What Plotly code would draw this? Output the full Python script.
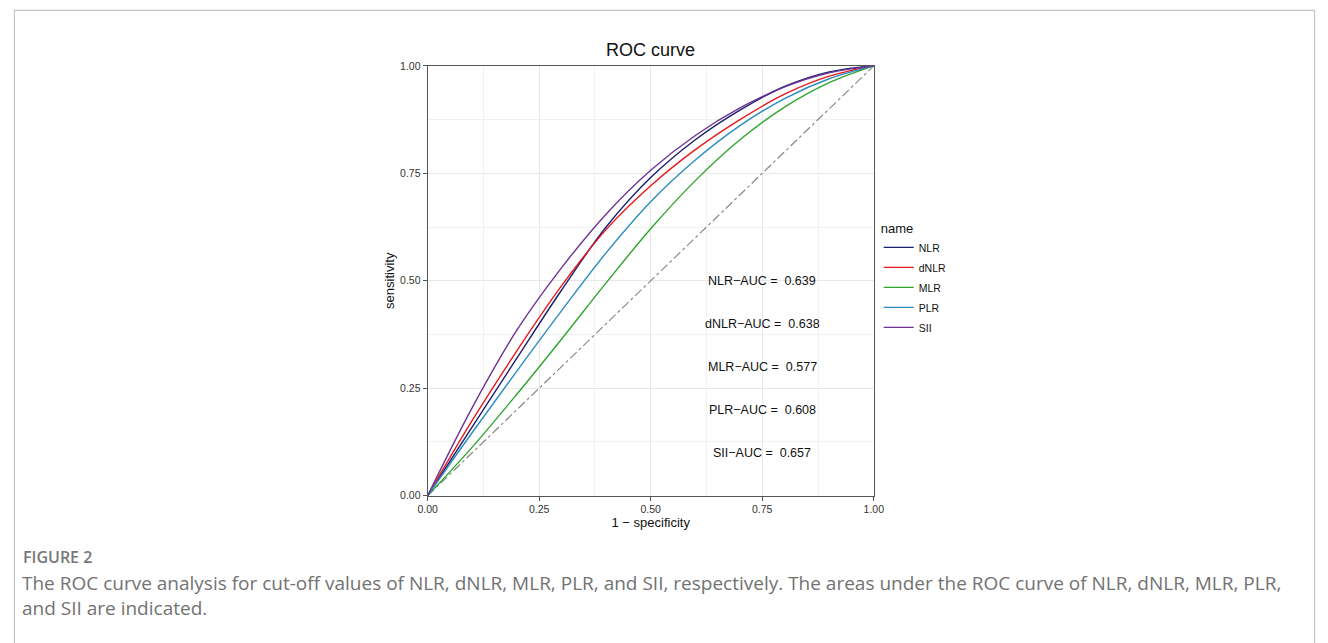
import plotly.graph_objects as go

# ---- data ----
names = ["NLR", "dNLR", "MLR", "PLR", "SII"]
colors = ["#1a1f6e", "#e8191c", "#2fa52f", "#2a8cc0", "#6e3495"]
auc_values = ["0.639", "0.638", "0.577", "0.608", "0.657"]

fpr_grid = [0, 0.1, 0.2, 0.3, 0.4, 0.5, 0.6, 0.7, 0.8, 0.9, 1.0]
nlr_tpr = [0, 0.160, 0.320, 0.478, 0.625, 0.740, 0.828, 0.897, 0.952, 0.986, 1]
dnlr_tpr = [0, 0.175, 0.337, 0.488, 0.619, 0.721, 0.805, 0.875, 0.934, 0.976, 1]
mlr_tpr = [0, 0.113, 0.236, 0.364, 0.495, 0.621, 0.733, 0.828, 0.904, 0.961, 1]
plr_tpr = [0, 0.147, 0.290, 0.430, 0.565, 0.684, 0.781, 0.861, 0.924, 0.970, 1]
sii_tpr = [0, 0.205, 0.385, 0.530, 0.655, 0.757, 0.838, 0.902, 0.951, 0.984, 1]

diag = [0, 1]
tick_vals = [0, 0.25, 0.5, 0.75, 1.0]
tick_text = ["0.00", "0.25", "0.50", "0.75", "1.00"]
label_x = [0.75, 0.75, 0.75, 0.75, 0.75]
label_y = [0.5, 0.4, 0.3, 0.2, 0.1]

caption_head = "FIGURE 2"
caption_line1 = ("The ROC curve analysis for cut-off values of NLR, dNLR, MLR, PLR, and SII, "
                 "respectively. The areas under the ROC curve of NLR, dNLR, MLR, PLR,")
caption_line2 = "and SII are indicated."

curves = [nlr_tpr, dnlr_tpr, mlr_tpr, plr_tpr, sii_tpr]

W, H = 1328, 643
PL, PR, PT, PB = 424, 877, 61, 499
FONT = "Liberation Sans, Arial, sans-serif"

fig = go.Figure()

fig.add_trace(go.Scatter(x=diag, y=diag, mode="lines", showlegend=False,
                         line=dict(color="#8a8a8a", width=1.2, dash="dashdot"),
                         hoverinfo="skip"))

for nm, col, ty in zip(names, colors, curves):
    fig.add_trace(go.Scatter(x=fpr_grid, y=ty, mode="lines", name=nm, legendgroup=nm,
                             line=dict(color=col, width=1.4, shape="spline", smoothing=1.0)))

for nm, val, lx, ly in zip(names, auc_values, label_x, label_y):
    fig.add_annotation(x=lx, y=ly, xref="x", yref="y",
                       text=f"{nm}\u2212AUC =\u00a0 {val}", showarrow=False,
                       font=dict(family=FONT, size=12.5, color="#111111"))

# title
fig.add_annotation(x=(PL + PR) / 2 / W, y=1 - 45 / H, xref="paper", yref="paper",
                   text="ROC curve", showarrow=False, xanchor="center", yanchor="middle",
                   font=dict(family=FONT, size=18, color="#111111"))

# caption
cap_font = "Open Sans, Noto Sans, sans-serif"
fig.add_annotation(x=11 / W, y=1 - 561 / H, xref="paper", yref="paper",
                   text=caption_head, showarrow=False, xanchor="left", yanchor="middle",
                   font=dict(family=cap_font, size=16, color="#767676", weight=600))
fig.add_annotation(x=10 / W, y=1 - 601 / H, xref="paper", yref="paper",
                   text=caption_line1 + "<br>" + caption_line2, showarrow=False,
                   xanchor="left", yanchor="middle", align="left",
                   font=dict(family=cap_font, size=19, color="#727272"))

# outer frame
fig.add_shape(type="rect", xref="paper", yref="paper",
              x0=4.5 / W, x1=1324.5 / W, y0=-0.2, y1=1 - 4.5 / H,
              line=dict(color="#c4c4c4", width=1.2), layer="below")

axis_common = dict(
    range=[0, 1], tickvals=tick_vals, ticktext=tick_text,
    showgrid=True, gridcolor="#e8e8e8", gridwidth=1,
    minor=dict(showgrid=True, gridcolor="#f1f1f1", gridwidth=0.8, dtick=0.125, tick0=0),
    zeroline=False, showline=True, linecolor="#555555", linewidth=1, mirror=True,
    ticks="outside", ticklen=4, tickcolor="#555555", tickwidth=1,
    tickfont=dict(family=FONT, size=10.5, color="#333333"),
    fixedrange=True,
)

fig.update_layout(
    width=W, height=H,
    margin=dict(l=0, r=0, t=0, b=0),
    paper_bgcolor="white", plot_bgcolor="white",
    xaxis=dict(domain=[PL / W, PR / W],
               title=dict(text="1 \u2212 specificity", standoff=0,
                          font=dict(family=FONT, size=13, color="#111111")),
               **axis_common),
    yaxis=dict(domain=[1 - PB / H, 1 - PT / H],
               title=dict(text="sensitivity", standoff=2,
                          font=dict(family=FONT, size=13, color="#111111")),
               **axis_common),
    legend=dict(x=882 / W, y=1 - 214 / H, xanchor="left", yanchor="top",
                title=dict(text="name", font=dict(family=FONT, size=13, color="#111111")),
                font=dict(family=FONT, size=10.5, color="#111111"),
                bgcolor="rgba(0,0,0,0)", tracegroupgap=1, itemwidth=30),
    showlegend=True,
)

fig.write_html("out.html", config={"displayModeBar": False},
               post_script="document.body.style.margin='0';document.body.style.overflow='hidden';")
